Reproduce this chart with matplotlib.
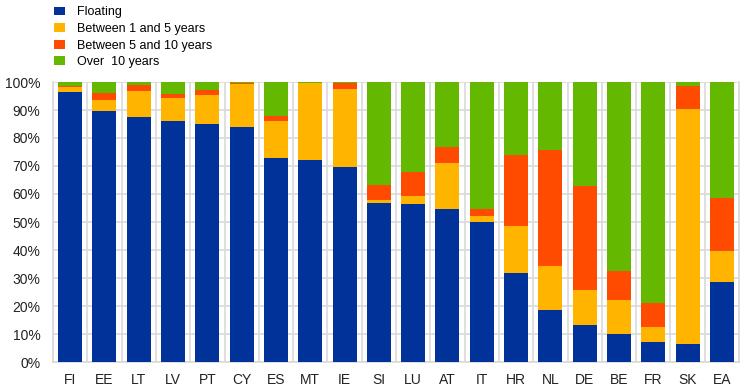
import matplotlib.pyplot as plt
import numpy as np
from matplotlib.ticker import PercentFormatter

plt.rcParams['font.family'] = ['Liberation Sans', 'DejaVu Sans']

countries = ['FI', 'EE', 'LT', 'LV', 'PT', 'CY', 'ES', 'MT', 'IE', 'SI', 'LU', 'AT', 'IT',
             'HR', 'NL', 'DE', 'BE', 'FR', 'SK', 'EA']
floating = [96.4, 89.6, 87.5, 86.1, 85.0, 83.9, 72.9, 72.1, 69.6, 56.8, 56.4, 54.6, 50.0,
            31.8, 18.6, 13.2, 10.0, 7.1, 6.4, 28.6]
y1_5 = [1.8, 4.0, 9.3, 8.2, 10.4, 15.4, 13.2, 27.5, 27.9, 1.1, 2.9, 16.5, 2.1,
        16.8, 15.7, 12.5, 12.1, 5.4, 84.0, 11.0]
y5_10 = [0.5, 2.5, 2.1, 1.5, 1.7, 0.3, 1.9, 0.0, 2.1, 5.3, 8.7, 5.7, 2.5,
         25.3, 41.4, 37.2, 10.4, 8.6, 8.3, 19.1]
over10 = [100 - a - b - c for a, b, c in zip(floating, y1_5, y5_10)]

labels = ['Floating', 'Between 1 and 5 years', 'Between 5 and 10 years', 'Over  10 years']
colors = ['#003299', '#FFB400', '#FF4B00', '#65B800']

fig = plt.figure(figsize=(7.44, 3.90), dpi=100)
ax = fig.add_axes([53 / 744, 28 / 390, 686 / 744, 280 / 390])

x = np.arange(len(countries))
bottom = np.zeros(len(countries))
for vals, lab, col in zip([floating, y1_5, y5_10, over10], labels, colors):
    ax.bar(x, vals, 0.70, bottom=bottom, color=col, label=lab, zorder=3)
    bottom += np.array(vals)

ax.set_xlim(-0.5, len(countries) - 0.5)
ax.set_ylim(0, 100)
ax.set_yticks(np.arange(0, 101, 10))
ax.yaxis.set_major_formatter(PercentFormatter(decimals=0))
ax.set_xticks(x)
ax.set_xticklabels(countries)
ax.set_xticks(np.arange(-0.5, len(countries), 1), minor=True)
ax.grid(axis='y', color='#d9d9d9', linewidth=1.2, zorder=0)
ax.grid(axis='x', which='minor', color='#d9d9d9', linewidth=1.2, zorder=0)
ax.tick_params(axis='both', which='both', length=0, labelsize=10, colors='#222222')
ax.tick_params(axis='x', pad=8)
ax.tick_params(axis='y', pad=9)
for s in ax.spines.values():
    s.set_color('#d9d9d9')
    s.set_linewidth(1.2)
ax.spines['top'].set_visible(False)

fig.legend(loc='upper left', bbox_to_anchor=(48 / 744, 1.0), frameon=False,
           fontsize=9, handlelength=0.85, handleheight=0.7, handletextpad=1.0,
           labelspacing=0.37, borderaxespad=0.1)

fig.savefig('out.png', dpi=100)
